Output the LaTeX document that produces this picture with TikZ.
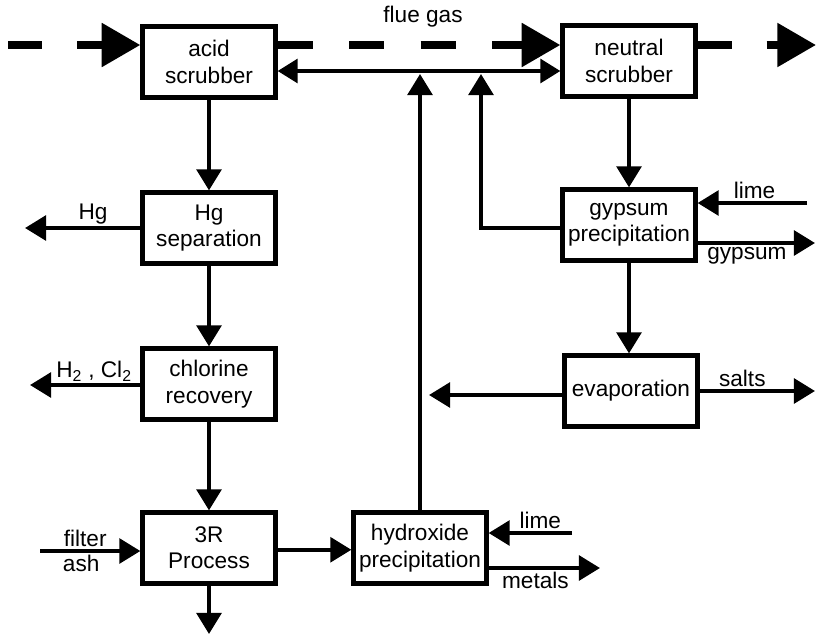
\documentclass[tikz,border=0pt]{standalone}
\usepackage{fontspec}
\setmainfont{Liberation Sans}
\usetikzlibrary{arrows.meta}

\begin{document}
\begin{tikzpicture}[x=0.03cm,y=-0.03cm,
    font=\fontsize{19.3}{22.5}\selectfont,
    unit/.style={draw,line width=3.6pt,minimum width=3.99cm,minimum height=2.13cm,align=center,inner sep=0pt},
    flow/.style={line width=3.6pt,-{Triangle[length=18pt,width=21pt]}},
    both/.style={line width=3.6pt,{Triangle[length=17pt,width=20pt]}-{Triangle[length=17pt,width=20pt]}},
    gas/.style={line width=6.8pt,dash pattern=on 29pt off 30pt,-{Triangle[length=33pt,width=36pt]}},
    lbl/.style={inner sep=1.5pt}]
            \useasboundingbox (0,0) rectangle (816,634);

            % process units
            \node[unit] (acid) at (209,62) {acid\\scrubber};
            \node[unit] (neutral) at (629,61) {neutral\\scrubber};
            \node[unit] (hgsep) at (209,228) {Hg\\separation};
            \node[unit] (chlor) at (209,384) {chlorine\\recovery};
            \node[unit] (threer) at (209,548) {3R\\Process};
            \node[unit] (hydrox) at (420,548) {hydroxide\\precipitation};
            \node[unit] (gyps) at (629,225) {gypsum\\precipitation};
            \node[unit] (evap) at (631,391) {evaporation};
            \node (fluegas) at (423,17) {flue gas};

            % free ends
            \coordinate (gasin) at (8,45);
            \coordinate (gasout) at (816,45);
            \coordinate (link) at (350,71);
            \coordinate (feed) at (420,74);
            \coordinate (ret) at (481,74);
            \coordinate (hgout) at (25,228);
            \coordinate (clout) at (30,385);
            \coordinate (ashin) at (40,551);
            \coordinate (residue) at (209,634);
            \coordinate (limea) at (572,533);
            \coordinate (metals) at (600,568);
            \coordinate (limeb) at (807,203);
            \coordinate (gypout) at (815,243);
            \coordinate (evapout) at (429,395);
            \coordinate (saltout) at (815,391);

            % flue gas
            \draw[gas] (gasin) -- (acid.west |- gasin);
            \draw[gas,dash pattern=on 30pt off 31pt] (acid.east |- gasin) -- (neutral.west |- gasin);
            \draw[gas] (neutral.east |- gasin) -- (gasout);

            % liquid streams
            \draw[both] (acid.east |- link) -- (neutral.west |- link);
            \draw[flow] (hydrox.north) -- (feed);
            \draw[flow] ([yshift=-2.5pt]gyps.west) -| (ret);
            \draw[flow] (acid) -- (hgsep);
            \draw[flow] (hgsep) -- (chlor);
            \draw[flow] (chlor) -- (threer);
            \draw[flow] (threer) -- (residue);
            \draw[flow] (neutral) -- (gyps);
            \draw[flow] (gyps.south) -- (gyps.south |- evap.north);
            \draw[flow] (hgsep.west) -- node[lbl,above,pos=0.41] (hglbl) {Hg} (hgout);
            \draw[flow] (chlor.west |- clout) -- node[lbl,above,pos=0.42] (cllbl) {H\textsubscript{2} , Cl\textsubscript{2}} (clout);
            \draw[flow] (ashin) -- node[lbl,above,pos=0.45] (filterlbl) {filter}
                node[lbl,below,pos=0.41] (ashlbl) {ash} (threer.west |- ashin);
            \draw[flow] ([yshift=-1.5pt]threer.east) -- ([yshift=-1.5pt]hydrox.west);
            \draw[flow] (limea) -- node[lbl,above,pos=0.38] (limealbl) {lime} (hydrox.east |- limea);
            \draw[flow] (hydrox.east |- metals) -- node[lbl,below,pos=0.42] (metalslbl) {metals} (metals);
            \draw[flow] (limeb) -- node[lbl,above,pos=0.48] (limeblbl) {lime} (gyps.east |- limeb);
            \draw[flow] (gyps.east |- gypout) -- node[lbl,below,pos=0.42] (gyplbl) {gypsum} (gypout);
            \draw[flow] (evap.west |- evapout) -- (evapout);
            \draw[flow] (evap.east |- saltout) -- node[lbl,above,pos=0.37] (saltlbl) {salts} (saltout);
        \end{tikzpicture}
\end{document}
